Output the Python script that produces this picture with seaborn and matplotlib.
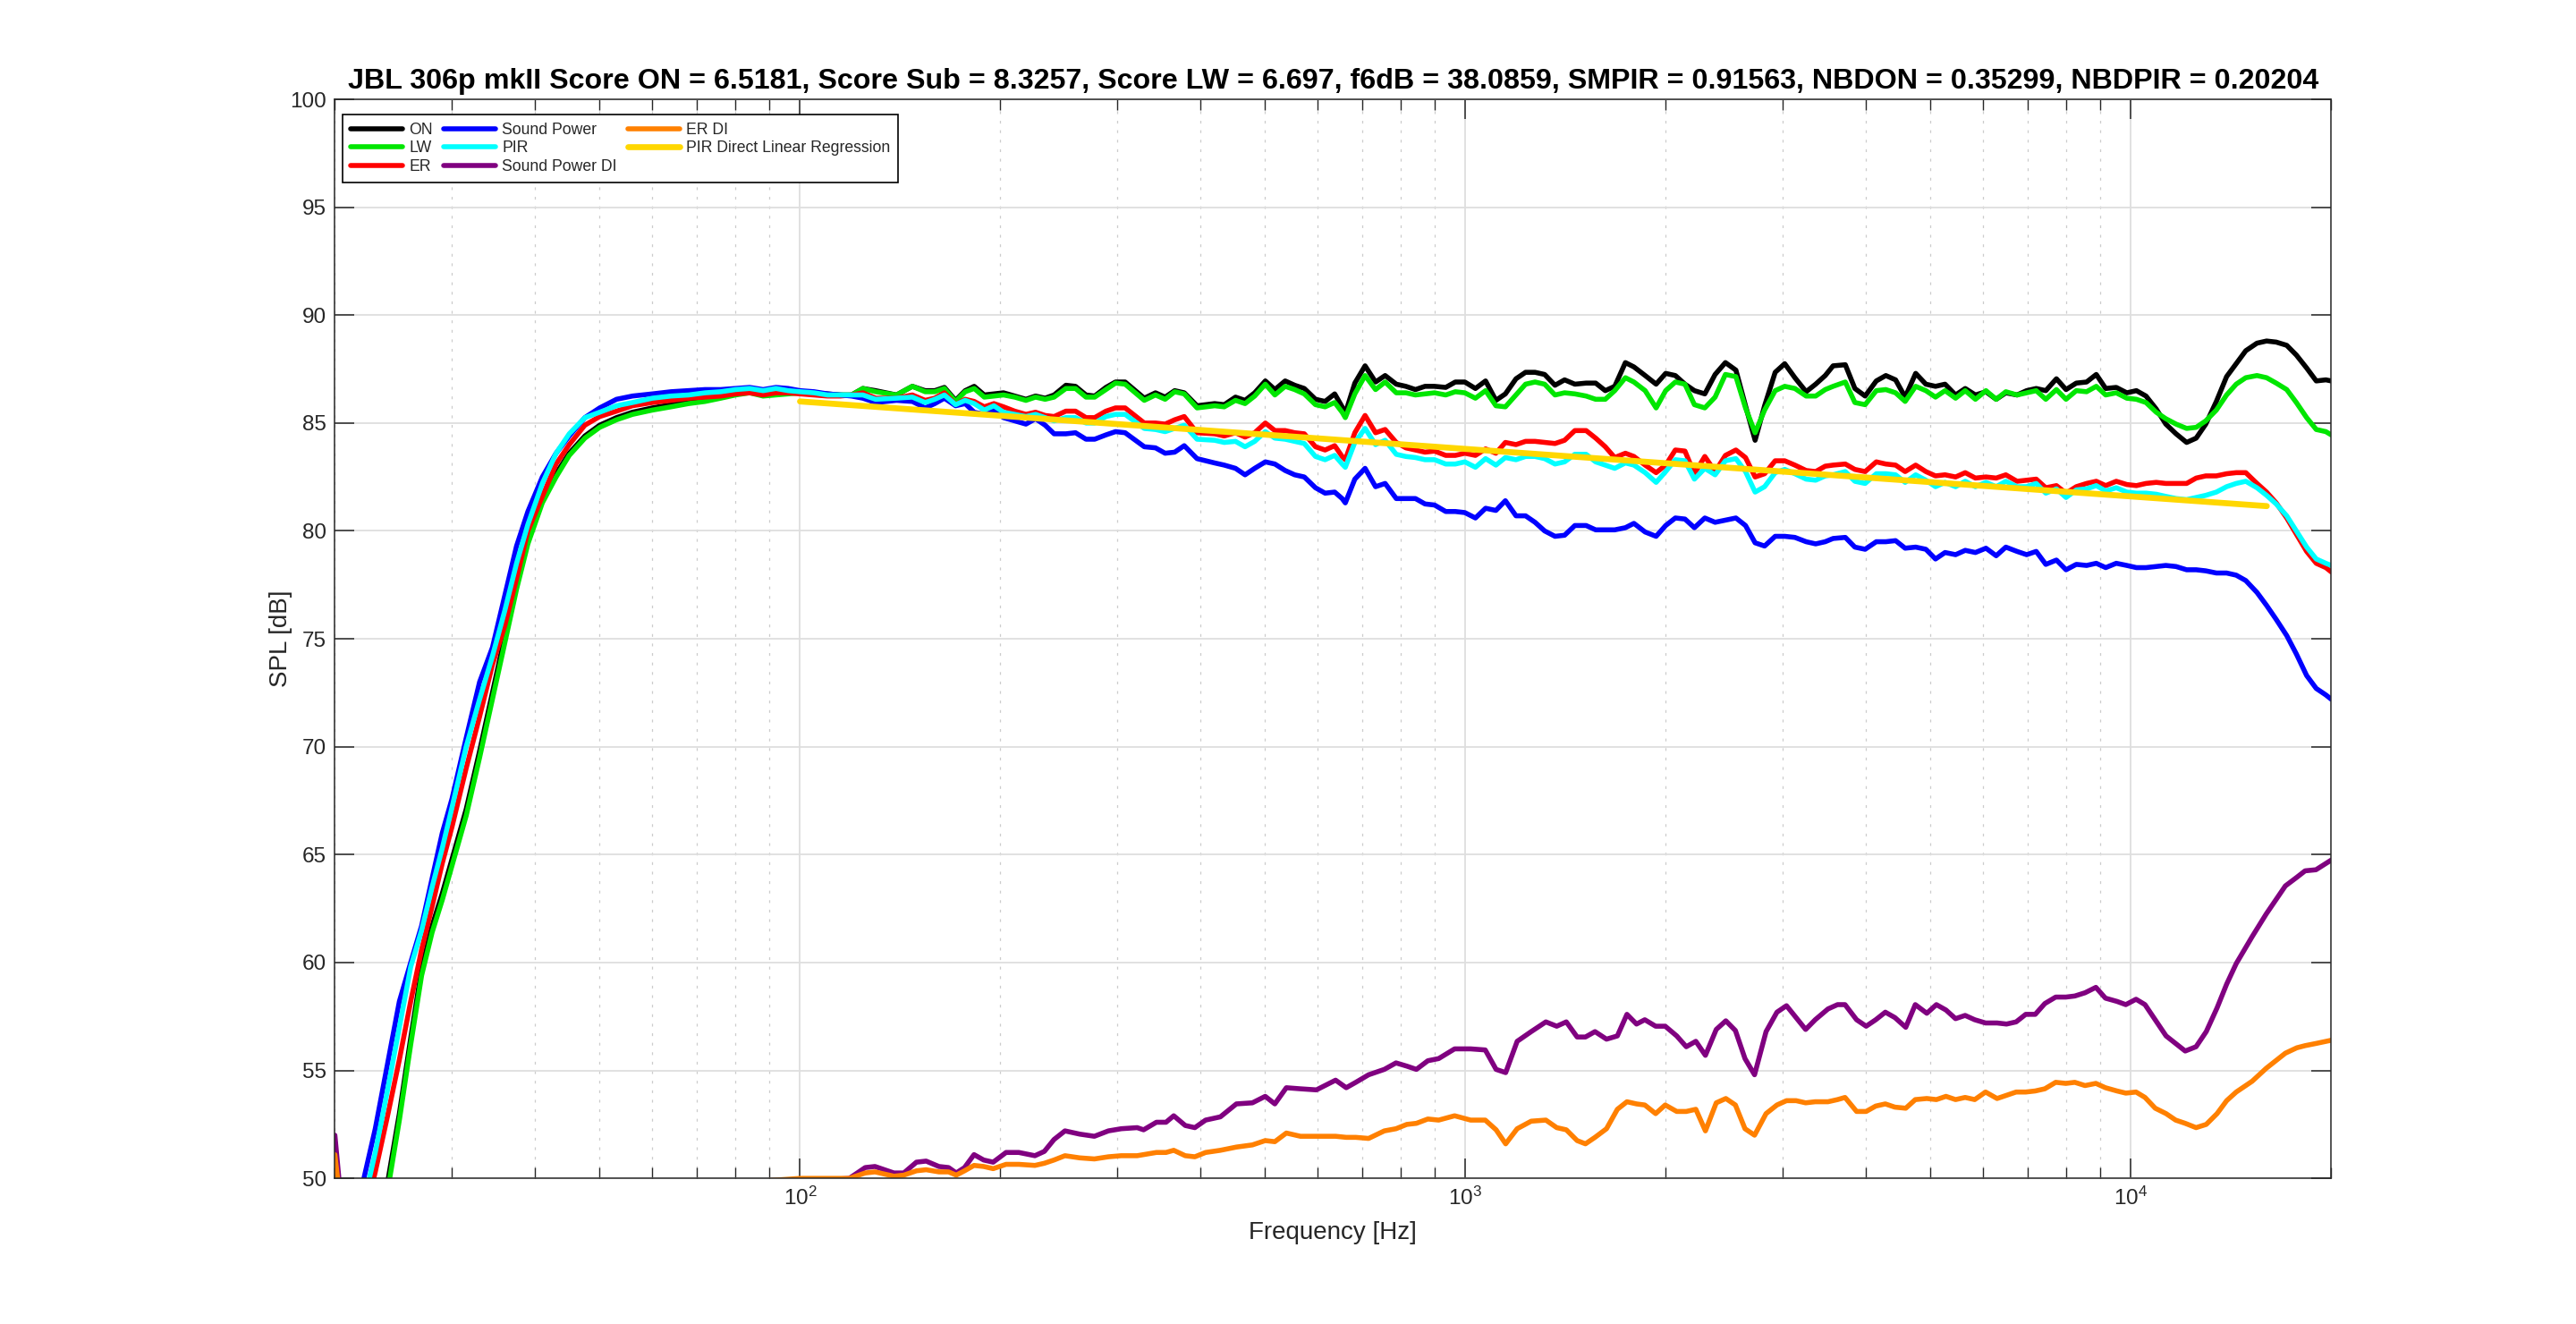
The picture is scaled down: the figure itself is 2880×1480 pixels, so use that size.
import matplotlib

matplotlib.use("Agg")
import matplotlib.pyplot as plt
import numpy as np
import pandas as pd
import seaborn as sns
from matplotlib.ticker import LogLocator, MultipleLocator, NullFormatter, NullLocator

# ---------------------------------------------------------------------------
# Data (SPL in dB vs frequency in Hz)
# ---------------------------------------------------------------------------
# shared frequency grid for ON / LW / ER / Sound Power / PIR
freq_hz = [
    20, 21, 22, 23, 24, 25, 26, 27, 28, 29, 30, 31.5, 33, 34.5, 36, 37.5, 39, 41, 43, 45,
    47.5, 50, 53, 56, 60, 64, 68, 72, 76, 80, 84, 88, 92, 96, 100, 105, 110,
    115.0, 119.5, 124.3, 129.9, 139.6, 147.5, 154.2, 159.4, 164.8, 171.3,
    177.1, 182.7, 189.2, 195.6, 202.2, 210.2, 218.5, 225.9, 233.5, 240.9,
    250.9, 259.4, 269.0, 277.2, 288.2, 297.9, 308.0, 329.1, 342.1, 353.7,
    365.6, 377.9, 395.0, 419.8, 434.0, 451.2, 466.4, 482.2, 500.3, 517.1,
    535.8, 553.8, 572.5, 595.1, 615.2, 636.0,
    652.6, 659.8, 681.9, 706.5, 732.6, 757.3, 787.0, 813.5, 841.0, 869.3,
    898.5, 933.9, 965.4, 997.7, 1035, 1072, 1111, 1148, 1191, 1231,
    1272, 1315, 1363, 1409, 1460, 1518, 1569, 1622, 1676, 1739,
    1791, 1862, 1934, 1999, 2067, 2137, 2208, 2289, 2372, 2458,
    2549, 2635, 2724, 2815, 2920, 3018, 3126, 3250, 3359, 3472,
    3568, 3722, 3847, 3986, 4143, 4282, 4429, 4578, 4748, 4918,
    5085, 5256, 5451, 5636, 5838, 6055, 6273, 6486, 6743, 6970,
    7205, 7448, 7727, 7988, 8277, 8577, 8869, 9163, 9504, 9858,
    10190, 10534, 10914, 11282, 11689, 12124, 12533, 12955, 13438, 13923,
    14393, 14878, 15465, 15987, 16529, 17143, 17723, 18365, 18986, 19628, 20000,
]

on_axis = [
    41.3, 43.3, 45.3, 47.5, 49.8, 53.0, 56.5, 59.7, 61.7, 63.2, 64.8, 67.1, 69.8, 72.5, 75.1, 77.6, 79.6, 81.5, 82.65, 83.6,
    84.4, 84.9, 85.25, 85.5, 85.7, 85.85, 85.95, 86.05, 86.2, 86.35, 86.45, 86.3, 86.35, 86.4, 86.45, 86.4, 86.35,
    86.3, 86.3, 86.6, 86.5, 86.3, 86.7, 86.5, 86.5, 86.65, 86.05,
    86.5, 86.7, 86.3, 86.35, 86.4, 86.25, 86.1, 86.25, 86.15, 86.3,
    86.75, 86.7, 86.3, 86.25, 86.65, 86.9, 86.9, 86.15, 86.4, 86.2,
    86.5, 86.4, 85.8, 85.9, 85.85, 86.2, 86.05, 86.4, 86.95, 86.55,
    86.95, 86.75, 86.6, 86.1, 86.0, 86.35,
    85.75, 85.45, 86.85, 87.65, 86.9, 87.2, 86.8, 86.7, 86.55, 86.7,
    86.7, 86.65, 86.9, 86.9, 86.6, 86.95, 86.05, 86.35, 87.05, 87.35,
    87.35, 87.25, 86.75, 87.0, 86.8, 86.85, 86.85, 86.5, 86.7, 87.8,
    87.6, 87.2, 86.8, 87.3, 87.2, 86.8, 86.5, 86.35, 87.25, 87.8,
    87.45, 85.8, 84.2, 85.8, 87.35, 87.75, 87.1, 86.45, 86.8, 87.2,
    87.65, 87.7, 86.6, 86.25, 86.95, 87.2, 87.0, 86.2, 87.3, 86.8,
    86.7, 86.8, 86.3, 86.6, 86.3, 86.45, 86.1, 86.4, 86.3, 86.5,
    86.6, 86.5, 87.05, 86.55, 86.85, 86.9, 87.25, 86.6, 86.65, 86.4,
    86.5, 86.25, 85.65, 84.95, 84.5, 84.1, 84.3, 84.95, 86.0, 87.15,
    87.75, 88.35, 88.7, 88.8, 88.75, 88.6, 88.15, 87.55, 86.95, 87.0, 86.95,
]

listening_window = [
    41.0, 43.0, 45.0, 47.2, 49.4, 52.7, 56.2, 59.4, 61.4, 62.9, 64.5, 66.8, 69.5, 72.2, 74.8, 77.3, 79.4, 81.3, 82.5, 83.5,
    84.3, 84.8, 85.15, 85.4, 85.6, 85.75, 85.9, 86.0, 86.15, 86.3, 86.4, 86.25, 86.3, 86.35, 86.4, 86.35, 86.3,
    86.3, 86.3, 86.6, 86.45, 86.3, 86.7, 86.45, 86.45, 86.6, 86.0,
    86.45, 86.6, 86.2, 86.25, 86.3, 86.2, 86.05, 86.2, 86.1, 86.2,
    86.6, 86.6, 86.2, 86.2, 86.55, 86.85, 86.8, 86.05, 86.3, 86.1,
    86.45, 86.35, 85.7, 85.8, 85.75, 86.05, 85.9, 86.25, 86.8, 86.3,
    86.7, 86.55, 86.35, 85.85, 85.75, 85.95,
    85.5, 85.25, 86.35, 87.2, 86.55, 86.9, 86.4, 86.4, 86.3, 86.35,
    86.4, 86.3, 86.45, 86.4, 86.15, 86.5, 85.8, 85.75, 86.3, 86.8,
    86.9, 86.8, 86.3, 86.4, 86.35, 86.25, 86.1, 86.1, 86.5, 87.1,
    86.9, 86.5, 85.7, 86.5, 86.9, 86.8, 85.85, 85.7, 86.2, 87.25,
    87.15, 85.7, 84.55, 85.6, 86.5, 86.7, 86.6, 86.25, 86.25, 86.55,
    86.7, 86.9, 85.95, 85.85, 86.5, 86.55, 86.4, 86.0, 86.7, 86.5,
    86.2, 86.5, 86.15, 86.5, 86.1, 86.5, 86.1, 86.45, 86.3, 86.4,
    86.5, 86.1, 86.55, 86.1, 86.5, 86.45, 86.7, 86.3, 86.4, 86.15,
    86.1, 85.95, 85.5, 85.2, 84.95, 84.75, 84.8, 85.1, 85.6, 86.3,
    86.8, 87.1, 87.2, 87.1, 86.85, 86.55, 85.95, 85.25, 84.7, 84.6, 84.45,
]

early_reflections = [
    44.0, 46.0, 47.8, 50.3, 52.9, 55.5, 58.2, 60.6, 62.6, 64.6, 66.3, 69.0, 71.4, 73.8, 75.6, 77.8, 80.0, 81.6, 83.1, 84.0,
    84.9, 85.3, 85.55, 85.8, 85.95, 86.05, 86.15, 86.2, 86.25, 86.35, 86.4, 86.3, 86.4, 86.4, 86.35, 86.3, 86.25,
    86.25, 86.3, 86.4, 86.15, 86.15, 86.3, 86.05, 86.15, 86.4, 85.85,
    86.1, 86.0, 85.75, 85.9, 85.75, 85.55, 85.4, 85.5, 85.35, 85.3,
    85.55, 85.55, 85.25, 85.25, 85.55, 85.7, 85.7, 85.0, 85.0, 84.95,
    85.15, 85.3, 84.55, 84.5, 84.4, 84.55, 84.35, 84.55, 85.0, 84.65,
    84.65, 84.55, 84.5, 83.9, 83.75, 83.95,
    83.45, 83.3, 84.55, 85.35, 84.55, 84.7, 84.1, 83.85, 83.75, 83.65,
    83.7, 83.5, 83.5, 83.6, 83.5, 83.8, 83.6, 84.1, 84.0, 84.15,
    84.15, 84.1, 84.05, 84.2, 84.65, 84.65, 84.3, 83.9, 83.4, 83.6,
    83.45, 83.05, 82.7, 83.05, 83.75, 83.7, 82.65, 83.45, 82.75, 83.5,
    83.75, 83.4, 82.5, 82.65, 83.25, 83.25, 83.05, 82.8, 82.75, 83.0,
    83.05, 83.1, 82.85, 82.75, 83.2, 83.1, 83.05, 82.75, 83.05, 82.75,
    82.55, 82.6, 82.5, 82.7, 82.45, 82.5, 82.45, 82.6, 82.3, 82.35,
    82.4, 82.0, 82.1, 81.75, 82.05, 82.2, 82.3, 82.1, 82.3, 82.15,
    82.1, 82.2, 82.25, 82.2, 82.2, 82.2, 82.45, 82.55, 82.55, 82.65,
    82.7, 82.7, 82.2, 81.8, 81.3, 80.6, 79.85, 79.05, 78.5, 78.3, 78.1,
]

sound_power = [
    45.0, 47.5, 49.7, 52.3, 55.3, 58.2, 60.0, 61.7, 63.9, 66.0, 67.6, 70.4, 73.0, 74.6, 77.0, 79.3, 80.9, 82.5, 83.6, 84.4,
    85.25, 85.7, 86.1, 86.25, 86.35, 86.45, 86.5, 86.55, 86.55, 86.6, 86.65, 86.55, 86.65, 86.6, 86.5, 86.45, 86.35,
    86.3, 86.25, 86.15, 85.95, 86.05, 86.0, 85.7, 85.9, 86.15, 85.8,
    85.9, 85.5, 85.4, 85.6, 85.25, 85.1, 84.95, 85.2, 84.9, 84.5,
    84.5, 84.55, 84.25, 84.25, 84.45, 84.6, 84.55, 83.9, 83.85, 83.6,
    83.65, 83.95, 83.35, 83.15, 83.05, 82.9, 82.6, 82.9, 83.2, 83.1,
    82.8, 82.6, 82.5, 82.0, 81.75, 81.8,
    81.5, 81.3, 82.4, 82.9, 82.05, 82.2, 81.5, 81.5, 81.5, 81.25,
    81.2, 80.9, 80.9, 80.85, 80.6, 81.05, 80.95, 81.4, 80.7, 80.7,
    80.4, 80.0, 79.75, 79.8, 80.25, 80.25, 80.05, 80.05, 80.05, 80.15,
    80.35, 79.95, 79.75, 80.25, 80.6, 80.55, 80.15, 80.6, 80.4, 80.5,
    80.6, 80.25, 79.45, 79.3, 79.75, 79.75, 79.7, 79.5, 79.4, 79.5,
    79.65, 79.7, 79.25, 79.15, 79.5, 79.5, 79.55, 79.2, 79.25, 79.15,
    78.7, 79.0, 78.9, 79.1, 79.0, 79.2, 78.85, 79.25, 79.05, 78.9,
    79.05, 78.45, 78.65, 78.2, 78.45, 78.4, 78.5, 78.3, 78.5, 78.4,
    78.3, 78.3, 78.35, 78.4, 78.35, 78.2, 78.2, 78.15, 78.05, 78.05,
    77.95, 77.7, 77.15, 76.55, 75.9, 75.15, 74.3, 73.3, 72.7, 72.4, 72.2,
]

pir = [
    44.5, 46.8, 48.6, 51.2, 54.1, 57.0, 59.8, 61.5, 63.5, 65.3, 67.2, 70.0, 72.2, 74.2, 76.3, 78.5, 80.3, 82.2, 83.6, 84.5,
    85.25, 85.5, 85.8, 85.95, 86.15, 86.25, 86.3, 86.4, 86.45, 86.55, 86.6, 86.5, 86.6, 86.5, 86.45, 86.4, 86.3,
    86.3, 86.3, 86.3, 86.1, 86.15, 86.2, 85.95, 86.1, 86.3, 85.85,
    86.05, 85.9, 85.6, 85.8, 85.5, 85.4, 85.3, 85.4, 85.25, 85.1,
    85.25, 85.25, 85.0, 85.0, 85.3, 85.4, 85.4, 84.75, 84.7, 84.6,
    84.75, 84.9, 84.25, 84.2, 84.1, 84.15, 83.9, 84.15, 84.6, 84.3,
    84.25, 84.15, 84.05, 83.45, 83.3, 83.5,
    83.1, 82.95, 84.1, 84.75, 84.0, 84.2, 83.55, 83.45, 83.4, 83.3,
    83.3, 83.1, 83.1, 83.2, 82.95, 83.35, 83.05, 83.4, 83.3, 83.45,
    83.45, 83.35, 83.1, 83.2, 83.55, 83.55, 83.2, 83.05, 82.9, 83.15,
    83.05, 82.7, 82.25, 82.75, 83.3, 83.25, 82.4, 82.9, 82.6, 83.25,
    83.35, 82.75, 81.8, 82.05, 82.7, 82.85, 82.65, 82.4, 82.35, 82.55,
    82.6, 82.75, 82.3, 82.2, 82.65, 82.65, 82.6, 82.25, 82.6, 82.35,
    82.05, 82.25, 82.05, 82.3, 82.05, 82.25, 82.05, 82.3, 82.05, 82.05,
    82.2, 81.75, 81.95, 81.55, 81.9, 81.95, 82.1, 81.85, 82.0, 81.8,
    81.75, 81.75, 81.7, 81.6, 81.5, 81.45, 81.55, 81.65, 81.8, 82.05,
    82.2, 82.3, 82.0, 81.65, 81.25, 80.7, 80.0, 79.25, 78.7, 78.5, 78.4,
]

# directivity indices (plotted with a +50 dB offset)
freq_di = [
    20, 21, 25, 30, 40, 50, 60, 70, 80, 90, 100, 106,
    112.2, 118.6, 125.3, 129.6, 138.4, 143.2, 149.6, 154.7, 161.7, 167.2,
    171.7, 176.7, 182.6, 188.8, 195.1, 204.0, 213.2, 225.4, 232.9, 240.8,
    250.1, 263.2, 276.9, 290.7, 303.9, 321.1, 328.3, 343.2, 354.8, 364.4,
    379.2, 392.0, 406.9, 428.2, 452.6, 478.4, 500.1, 517.0, 538.0, 564.9,
    597.0, 638.0,
    661.9, 684.2, 715.2, 755.2, 786.3, 816.3, 843.8, 877.9, 911.4, 963.1,
    1017.9, 1070.8, 1111.7, 1149.2, 1195.8, 1255.3, 1320.6, 1371.2, 1417.4, 1471.6,
    1514.5, 1565.3, 1629.0, 1691.3, 1748.3, 1807.2, 1859.7, 1930.8, 1995.8, 2076.9,
    2146.7, 2219.0, 2293.7, 2381.4, 2461.6, 2544.5, 2630.3, 2718.8, 2829.3, 2937.8,
    3036.7, 3138.9, 3244.4, 3353.6, 3505.3, 3623.3, 3718.3, 3869.9, 4000.2, 4135.1,
    4274.5, 4418.6, 4587.6, 4741.6, 4934.4, 5100.7, 5272.6, 5450.2, 5634.0, 5823.9,
    6046.7, 6292.4, 6501.8, 6721.2, 6947.9, 7181.0, 7423.0, 7707.3, 7984.1, 8234.3,
    8530.6, 8857.0, 9155.2, 9526.2, 9823.0, 10178, 10498, 10876, 11292, 11672,
    12065, 12527, 12976, 13471, 13925, 14393, 15210, 15968, 17061, 17751,
    18269, 18968, 20000,
]

sound_power_di = [
    52.0, 45.0, 47.0, 48.0, 48.5, 49.0, 49.2, 49.4, 49.6, 49.8, 49.9, 49.95,
    49.95, 50.0, 50.5, 50.55, 50.25, 50.25, 50.75, 50.8, 50.55, 50.5,
    50.25, 50.5, 51.1, 50.85, 50.75, 51.2, 51.2, 51.05, 51.25, 51.8,
    52.2, 52.05, 51.95, 52.2, 52.3, 52.35, 52.25, 52.6, 52.6, 52.9,
    52.45, 52.35, 52.7, 52.85, 53.45, 53.5, 53.8, 53.45, 54.2, 54.15,
    54.1, 54.55,
    54.2, 54.45, 54.8, 55.05, 55.35, 55.2, 55.05, 55.45, 55.55, 56.0,
    56.0, 55.95, 55.05, 54.9, 56.35, 56.8, 57.25, 57.05, 57.25, 56.55,
    56.55, 56.8, 56.45, 56.6, 57.6, 57.15, 57.35, 57.05, 57.05, 56.6,
    56.1, 56.35, 55.7, 56.9, 57.3, 56.85, 55.55, 54.8, 56.8, 57.7,
    58.0, 57.45, 56.9, 57.35, 57.85, 58.05, 58.05, 57.35, 57.05, 57.35,
    57.7, 57.45, 57.0, 58.05, 57.65, 58.05, 57.8, 57.4, 57.55, 57.35,
    57.2, 57.2, 57.15, 57.25, 57.6, 57.6, 58.1, 58.4, 58.4, 58.45,
    58.6, 58.85, 58.35, 58.2, 58.05, 58.3, 58.05, 57.35, 56.6, 56.25,
    55.9, 56.1, 56.8, 57.9, 59.0, 59.95, 61.2, 62.25, 63.55, 63.95,
    64.25, 64.3, 64.75,
]

er_di = [
    51.1, 45.5, 47.5, 48.5, 49.0, 49.3, 49.5, 49.7, 49.8, 49.9, 50.0, 50.0,
    50.0, 50.0, 50.25, 50.3, 50.1, 50.15, 50.35, 50.4, 50.3, 50.3,
    50.15, 50.35, 50.6, 50.55, 50.45, 50.65, 50.65, 50.6, 50.7, 50.85,
    51.05, 50.95, 50.9, 51.0, 51.05, 51.05, 51.1, 51.2, 51.2, 51.3,
    51.05, 51.0, 51.2, 51.3, 51.45, 51.55, 51.75, 51.7, 52.1, 51.95,
    51.95, 51.95,
    51.9, 51.9, 51.85, 52.2, 52.3, 52.5, 52.55, 52.75, 52.7, 52.9,
    52.7, 52.7, 52.25, 51.6, 52.3, 52.65, 52.7, 52.35, 52.25, 51.75,
    51.6, 51.9, 52.3, 53.2, 53.55, 53.45, 53.4, 53.0, 53.4, 53.1,
    53.1, 53.2, 52.2, 53.5, 53.7, 53.4, 52.3, 52.0, 53.0, 53.4,
    53.6, 53.6, 53.5, 53.55, 53.55, 53.65, 53.75, 53.1, 53.1, 53.35,
    53.45, 53.3, 53.25, 53.65, 53.7, 53.65, 53.8, 53.65, 53.75, 53.65,
    54.0, 53.7, 53.85, 54.0, 54.0, 54.05, 54.15, 54.45, 54.4, 54.45,
    54.3, 54.4, 54.2, 54.05, 53.95, 54.0, 53.75, 53.25, 53.0, 52.7,
    52.55, 52.35, 52.5, 53.0, 53.6, 54.0, 54.5, 55.1, 55.8, 56.05,
    56.15, 56.25, 56.4,
]

# PIR linear regression (straight line on the log axis)
freq_reg = [100, 16000]
pir_reg = [86.0, 81.15]

title = ("JBL 306p mkII Score ON = 6.5181, Score Sub = 8.3257, Score LW = 6.697, "
         "f6dB = 38.0859, SMPIR = 0.91563, NBDON = 0.35299, NBDPIR = 0.20204")

# ---------------------------------------------------------------------------
sns.set_style("ticks")
plt.rcParams["font.family"] = ["Liberation Sans", "DejaVu Sans"]
plt.rcParams["mathtext.fontset"] = "custom"
plt.rcParams["mathtext.rm"] = "Liberation Sans"
plt.rcParams["axes.edgecolor"] = "#262626"

LW = 4.0
curves = [
    ("ON", freq_hz, on_axis, "#000000", LW),
    ("LW", freq_hz, listening_window, "#00E600", LW),
    ("ER", freq_hz, early_reflections, "#FF0000", LW),
    ("Sound Power", freq_hz, sound_power, "#0000FF", LW),
    ("PIR", freq_hz, pir, "#00FFFF", LW),
    ("Sound Power DI", freq_di, sound_power_di, "#800080", LW),
    ("ER DI", freq_di, er_di, "#FF8000", LW),
    ("PIR Direct Linear Regression", freq_reg, pir_reg, "#FFD700", 4.8),
]

fig = plt.figure(figsize=(28.8, 14.8), dpi=100, facecolor="white")
ax = fig.add_axes([0.13, 0.11, 0.775, 0.815])

for name, f, spl, color, lw in curves:
    df = pd.DataFrame({"freq": f, "spl": spl})
    sns.lineplot(data=df, x="freq", y="spl", color=color, linewidth=lw,
                 estimator=None, sort=False, label=name, ax=ax)

ax.set_xscale("log")
ax.set_xlim(20, 20000)
ax.set_ylim(50, 100)
ax.yaxis.set_major_locator(MultipleLocator(5))
ax.yaxis.set_minor_locator(NullLocator())
ax.xaxis.set_major_locator(LogLocator(base=10, numticks=10))
ax.xaxis.set_minor_locator(LogLocator(base=10, subs=np.arange(2, 10), numticks=30))
ax.xaxis.set_minor_formatter(NullFormatter())

ax.set_axisbelow(True)
ax.grid(True, which="major", color="#dedede", linewidth=1.3, linestyle="-")
ax.grid(True, which="minor", axis="x", color="#cccccc", linewidth=0.9, linestyle=(0, (2.5, 6)))

for sp in ax.spines.values():
    sp.set_visible(True)
    sp.set_color("#262626")
    sp.set_linewidth(1.1)

ax.tick_params(axis="both", which="major", direction="in", length=16, width=1.1,
               top=True, right=True, labelsize=17.5, colors="#262626")
ax.tick_params(axis="both", which="minor", direction="in", length=8.5, width=1.0,
               top=True, right=True, colors="#262626")
ax.tick_params(axis="y", which="major", pad=7)
ax.tick_params(axis="x", which="major", pad=7)

ax.set_xlabel("Frequency [Hz]", fontsize=20, color="#262626", labelpad=9)
ax.set_ylabel("SPL [dB]", fontsize=20, color="#262626", labelpad=-2)
ax.set_title(title, fontsize=23.2, fontweight="bold", color="black", pad=9)

leg = ax.legend(loc="upper left", bbox_to_anchor=(0.004, 0.986), borderaxespad=0,
                ncol=3, fontsize=12.7, handlelength=3.3, handletextpad=0.4,
                columnspacing=0.68, borderpad=0.5, labelspacing=0.2,
                fancybox=False, framealpha=1, edgecolor="black")
leg.get_frame().set_linewidth(1.2)

fig.savefig("out.png", dpi=100, facecolor="white")
plt.close(fig)
